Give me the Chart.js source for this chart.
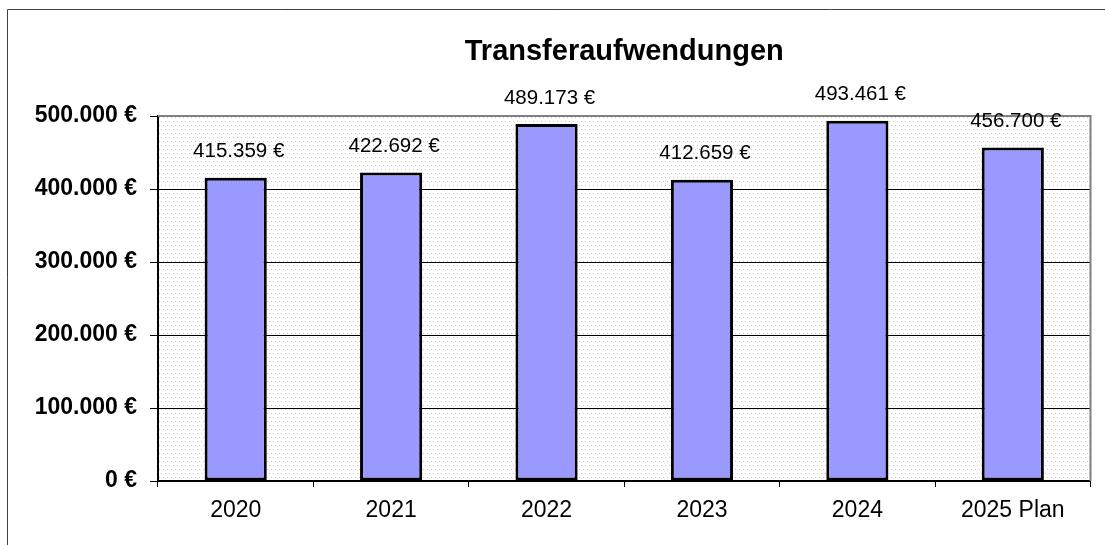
<!DOCTYPE html>
<html>
<head>
<meta charset="utf-8">
<script src="https://cdn.jsdelivr.net/npm/chart.js@4"></script>
<style>
  html, body { margin: 0; padding: 0; background: #fff; }
  canvas { display: block; }
</style>
</head>
<body>
<canvas id="c" width="1105" height="545"></canvas>
<script>
const categories = ['2020', '2021', '2022', '2023', '2024', '2025 Plan'];
const values = [415359, 422692, 489173, 412659, 493461, 456700];
const yTickValues = [0, 100000, 200000, 300000, 400000, 500000];
const chartTitle = 'Transferaufwendungen';

const FONT = '"Liberation Sans", Arial, sans-serif';
function fmt(v) {
  return String(Math.round(v)).replace(/\B(?=(\d{3})+(?!\d))/g, '.') + ' €';
}

function makePattern(ctx) {
  const p = document.createElement('canvas');
  p.width = 8; p.height = 8;
  const c = p.getContext('2d');
  c.fillStyle = '#ffffff';
  c.fillRect(0, 0, 8, 8);
  c.fillStyle = '#c8c8c8';
  [[1,1],[5,1],[3,5],[7,5]].forEach(([x,y]) => c.fillRect(x, y, 1, 1));
  return ctx.createPattern(p, 'repeat');
}

const framePlugin = {
  id: 'frame',
  beforeDraw(chart) {
    const ctx = chart.ctx;
    const a = chart.chartArea;
    ctx.save();
    ctx.fillStyle = '#ffffff';
    ctx.fillRect(0, 0, chart.width, chart.height);
    ctx.strokeStyle = '#404040';
    ctx.lineWidth = 1;
    ctx.beginPath();
    ctx.moveTo(7.5, chart.height);
    ctx.lineTo(7.5, 9.5);
    ctx.lineTo(chart.width, 9.5);
    ctx.stroke();
    ctx.fillStyle = makePattern(ctx);
    ctx.fillRect(a.left, a.top, a.right - a.left, a.bottom - a.top);
    ctx.restore();
  },
  beforeDatasetsDraw(chart) {
    const ctx = chart.ctx;
    const a = chart.chartArea;
    ctx.save();
    ctx.strokeStyle = '#808080';
    ctx.lineWidth = 2;
    ctx.beginPath();
    ctx.moveTo(a.left, a.top);
    ctx.lineTo(a.right, a.top);
    ctx.lineTo(a.right, a.bottom);
    ctx.stroke();
    ctx.restore();
  },
  afterDatasetsDraw(chart) {
    const ctx = chart.ctx;
    const meta = chart.getDatasetMeta(0);
    ctx.save();
    ctx.font = '20.5px ' + FONT;
    ctx.fillStyle = '#000';
    ctx.textAlign = 'center';
    ctx.textBaseline = 'middle';
    meta.data.forEach((bar, i) => {
      ctx.fillText(fmt(values[i]), bar.x + 3, bar.y - 26);
    });
    ctx.restore();
  }
};

new Chart(document.getElementById('c'), {
  type: 'bar',
  data: {
    labels: categories,
    datasets: [{
      data: values,
      backgroundColor: '#9999FF',
      borderColor: '#000000',
      borderWidth: 3,
      borderSkipped: false,
      barPercentage: 0.4,
      categoryPercentage: 1.0
    }]
  },
  options: {
    responsive: false,
    animation: false,
    devicePixelRatio: 1,
    layout: { padding: { left: 0, right: 14.5, top: 0, bottom: 0 } },
    plugins: {
      legend: { display: false },
      tooltip: { enabled: false },
      title: {
        display: true,
        text: chartTitle,
        fullSize: false,
        color: '#000',
        font: { family: FONT, size: 29, weight: 'bold' },
        padding: { top: 35, bottom: 46.2 }
      }
    },
    scales: {
      x: {
        grid: { drawOnChartArea: false, drawTicks: true, tickLength: 6, color: '#000', offset: true },
        border: { display: true, color: '#000', width: 2 },
        ticks: { color: '#000', padding: 10, font: { family: FONT, size: 23 }, maxRotation: 0, autoSkip: false },
        afterFit(s) { s.height = 64; }
      },
      y: {
        min: 0,
        max: 500000,
        afterBuildTicks(s) { s.ticks = yTickValues.map(v => ({ value: v })); },
        ticks: { color: '#000', padding: 13, font: { family: FONT, size: 23, weight: 'bold' }, callback: v => fmt(v) },
        grid: { color: '#000', lineWidth: 1, tickLength: 8, drawTicks: true },
        border: { display: true, color: '#000', width: 2 },
        afterFit(s) { s.width = 158; }
      }
    }
  },
  plugins: [framePlugin]
});
</script>
</body>
</html>
